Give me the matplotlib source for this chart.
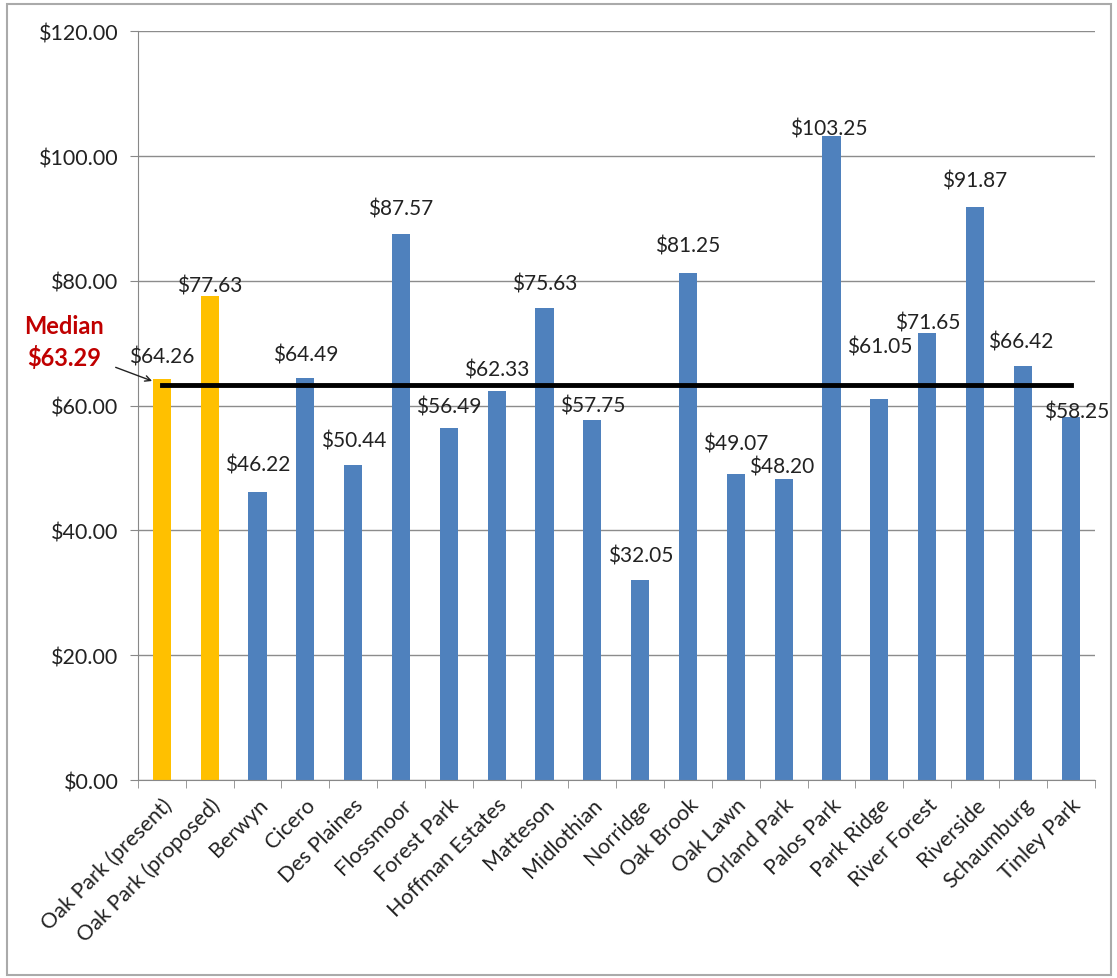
import numpy as np
import matplotlib.pyplot as plt

towns = ["Oak Park (present)", "Oak Park (proposed)", "Berwyn", "Cicero", "Des Plaines",
         "Flossmoor", "Forest Park", "Hoffman Estates", "Matteson", "Midlothian",
         "Norridge", "Oak Brook", "Oak Lawn", "Orland Park", "Palos Park",
         "Park Ridge", "River Forest", "Riverside", "Schaumburg", "Tinley Park"]
fees = [64.26, 77.63, 46.22, 64.49, 50.44, 87.57, 56.49, 62.33, 75.63, 57.75,
        32.05, 81.25, 49.07, 48.20, 103.25, 61.05, 71.65, 91.87, 66.42, 58.25]
median = 63.29

plt.rcParams['font.family'] = ['Lato', 'DejaVu Sans']

fig = plt.figure(figsize=(11.17, 9.79), dpi=100)
ax = fig.add_axes([0.1235, 0.2022, 0.8565, 0.7648])

x = np.arange(len(towns))
colors = ['#FFC000'] * 2 + ['#4F81BD'] * (len(towns) - 2)
ax.bar(x, fees, width=0.38, color=colors, zorder=2)

# data label placement (pixels from bar top), labels were dragged around in the original
lift = [23, 10, 27, 23, 25, 25, 21, 22, 25, 14, 25, 28, 30, 13, 7, 53, 10, 26, 24, 5]
shift = [0, 0, 0, 0, 0, 0, 0, 0, 0, 0, 0, 0, 0, -2, -3, 0, 0, 0, -2, 6]
for i, v in enumerate(fees):
    ax.annotate("${:.2f}".format(v), (x[i], v), xytext=(shift[i], lift[i]), textcoords='offset pixels',
                ha='center', va='center', fontsize=15, color='#222222', zorder=4)

ax.plot([x[0], x[-1]], [median, median], color='black', lw=3.5, zorder=3)
ax.annotate("", xy=(-0.15, 63.8), xytext=(-1.02, 66.3),
            arrowprops=dict(arrowstyle='->', color='#222222', lw=1), annotation_clip=False)
fig.text(0.022, 0.667, "Median", color='#C00000', fontsize=17, fontweight='bold', va='center')
fig.text(0.024, 0.634, "${:.2f}".format(median), color='#C00000', fontsize=17, fontweight='bold', va='center')

ax.set_xlim(-0.5, len(towns) - 0.5)
ax.set_ylim(0, 120)
ax.set_yticks(np.arange(0, 121, 20))
ax.set_yticklabels(["${:.2f}".format(t) for t in np.arange(0, 121, 20)], fontsize=15.5, color='#222222')
ax.set_xticks(x)
ax.set_xticklabels(towns, rotation=45, ha='right', rotation_mode='anchor', fontsize=15.5, color='#222222')
ax.set_xticks(np.arange(-0.5, len(towns)), minor=True)
ax.tick_params(axis='x', which='major', length=0, pad=10)
ax.tick_params(axis='x', which='minor', length=6, color='#888888')
ax.tick_params(axis='y', length=6, pad=8, color='#888888')
ax.yaxis.grid(True, color='#8C8C8C', lw=1, zorder=0)
ax.set_axisbelow(True)
for s in ['top', 'right']:
    ax.spines[s].set_visible(False)
for s in ['left', 'bottom']:
    ax.spines[s].set_color('#888888')

# outer chart border
fig.patches.append(plt.Rectangle((0.006, 0.003), 0.989, 0.992, transform=fig.transFigure,
                                 fill=False, edgecolor='#AAAAAA', lw=1.5))

fig.savefig("out.png", dpi=100)
